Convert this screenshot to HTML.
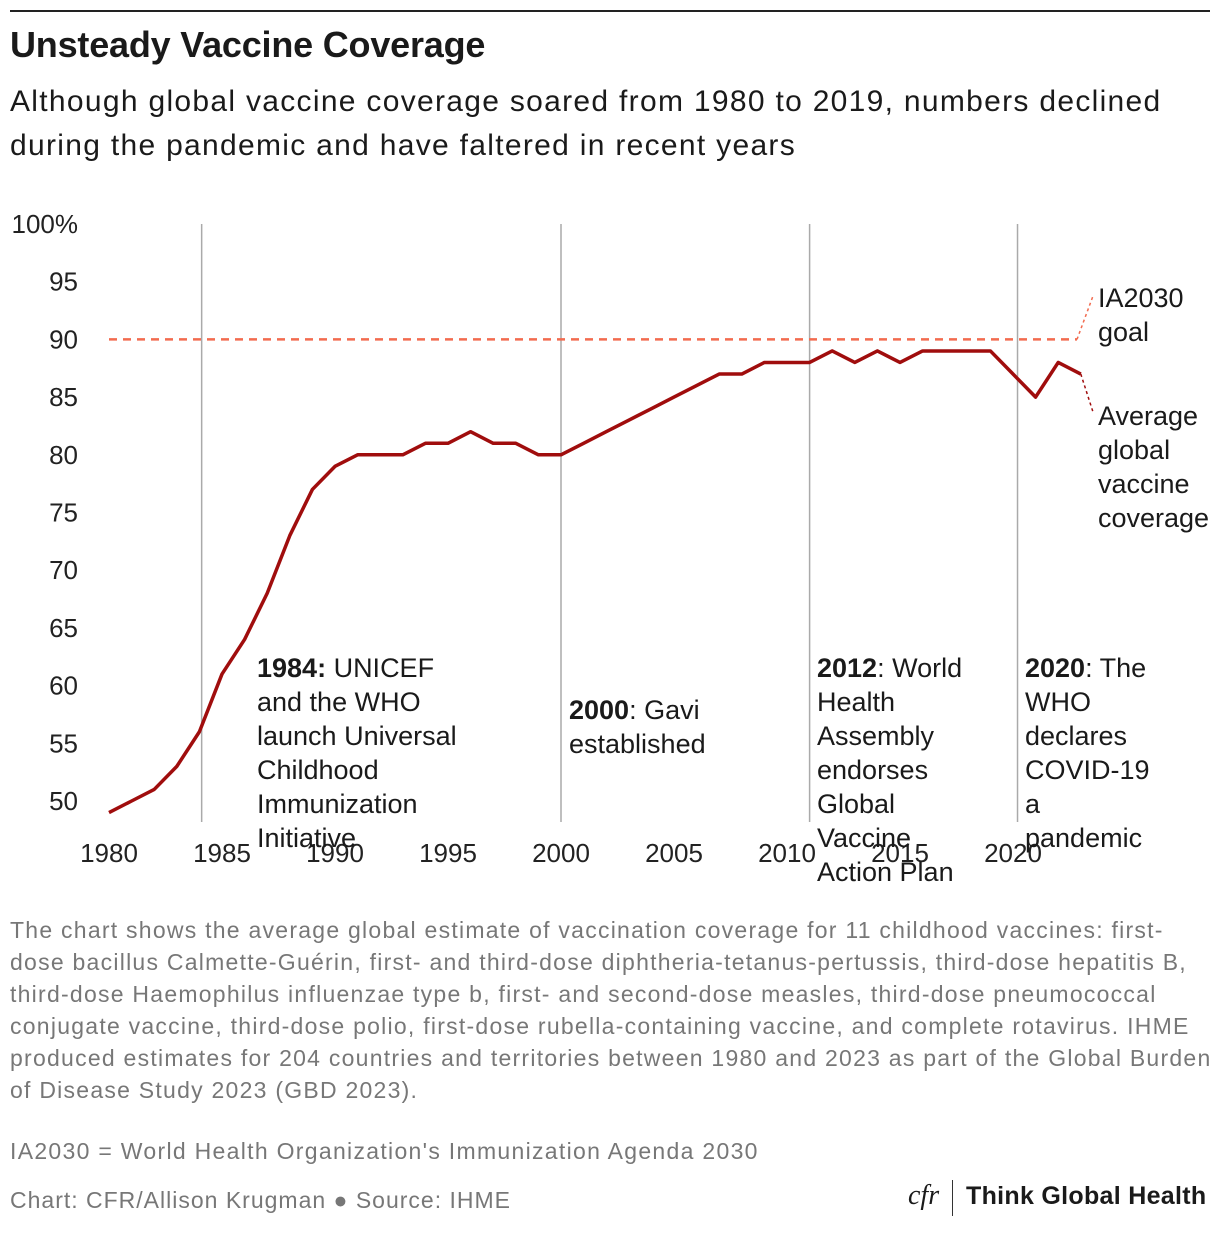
<!DOCTYPE html>
<html><head><meta charset="utf-8"><style>
body{margin:0;width:1220px;height:1236px;background:#fff;font-family:"Liberation Sans",sans-serif;color:#1a1a1a;position:relative;overflow:hidden}
.abs{position:absolute}
</style></head><body>
<div class="abs" style="left:10px;top:10px;width:1200px;height:2px;background:#222"></div>
<div class="abs" style="left:10px;top:24px;font-size:36px;font-weight:bold;letter-spacing:-0.2px">Unsteady Vaccine Coverage</div>
<div class="abs" style="left:10px;top:80px;font-size:30px;line-height:44px;width:1190px;letter-spacing:1.3px">Although global vaccine coverage soared from 1980 to 2019, numbers declined during the pandemic and have faltered in recent years</div>
<svg class="abs" style="left:0;top:0" width="1220" height="900" id="svg"></svg>
<div class="abs" style="left:10px;top:914px;width:1205px;font-size:23px;line-height:32px;color:#777;letter-spacing:1.25px">The chart shows the average global estimate of vaccination coverage for 11 childhood vaccines: first-dose bacillus Calmette-Guérin, first- and third-dose diphtheria-tetanus-pertussis, third-dose hepatitis B, third-dose Haemophilus influenzae type b, first- and second-dose measles, third-dose pneumococcal conjugate vaccine, third-dose polio, first-dose rubella-containing vaccine, and complete rotavirus. IHME produced estimates for 204 countries and territories between 1980 and 2023 as part of the Global Burden of Disease Study 2023 (GBD 2023).</div>
<div class="abs" style="left:10px;top:1138px;font-size:23px;color:#777;letter-spacing:1.3px">IA2030 = World Health Organization's Immunization Agenda 2030</div>
<div class="abs" style="left:10px;top:1187px;font-size:23px;color:#777;letter-spacing:1px">Chart: CFR/Allison Krugman ● Source: IHME</div>
<div class="abs" style="left:908px;top:1180px;font-size:28px;font-family:'Liberation Serif',serif;font-style:italic">cfr</div>
<div class="abs" style="left:952px;top:1180px;width:1px;height:36px;background:#333"></div>
<div class="abs" style="left:966px;top:1182px;font-size:25px;font-weight:bold;letter-spacing:0.3px">Think Global Health</div>
<script>
const years=[1980,1981,1982,1983,1984,1985,1986,1987,1988,1989,1990,1991,1992,1993,1994,1995,1996,1997,1998,1999,2000,2001,2002,2003,2004,2005,2006,2007,2008,2009,2010,2011,2012,2013,2014,2015,2016,2017,2018,2019,2020,2021,2022,2023];
const coverage=[49,50,51,53,56,61,64,68,73,77,79,80,80,80,81,81,82,81,81,80,80,81,82,83,84,85,86,87,87,88,88,88,89,88,89,88,89,89,89,89,87,85,88,87];
const yTicks=[50,55,60,65,70,75,80,85,90,95,100];
const xTicks=[1980,1985,1990,1995,2000,2005,2010,2015,2020];
const goal=90;
const eventYears=[1984.1,2000,2011,2020.2];
const NS="http://www.w3.org/2000/svg";
const svg=document.getElementById('svg');
const x=v=>109+(v-1980)*22.6;
const y=v=>224+(100-v)*11.54;
function mk(t,a){const e=document.createElementNS(NS,t);for(const k in a)e.setAttribute(k,a[k]);svg.appendChild(e);return e;}
yTicks.forEach(t=>{const e=mk('text',{x:78,y:y(t)+9,'font-size':26,fill:'#222','text-anchor':'end'});e.textContent=t===100?'100%':t;

});
xTicks.forEach(t=>{const e=mk('text',{x:x(t),y:862,'font-size':26,fill:'#222','text-anchor':'middle'});e.textContent=t;

});
eventYears.forEach(t=>{const e=mk('line',{x1:x(t),x2:x(t),y1:224,y2:822,stroke:'#aaa','stroke-width':1.5});

});
const g=mk('line',{x1:109,x2:1077,y1:y(goal),y2:y(goal),stroke:'#f26b4f','stroke-width':2.5,'stroke-dasharray':'8,6'});


const gl=mk('line',{x1:1077,y1:y(goal),x2:1093,y2:296,stroke:'#f26b4f','stroke-width':1.5,'stroke-dasharray':'3,3'});


const p=mk('polyline',{points:years.map((v,i)=>x(v)+','+y(coverage[i])).join(' '),fill:'none',stroke:'#a00d0d','stroke-width':3.5,'stroke-linejoin':'round'});


const cl=mk('line',{x1:x(2023),y1:y(coverage[coverage.length-1]),x2:1093,y2:412,stroke:'#a00d0d','stroke-width':1.5,'stroke-dasharray':'3,3'});


function block(lines,x0,y0,name){const e=mk('text',{x:x0,y:y0,'font-size':27,fill:'#1a1a1a'});


lines.forEach((l,i)=>{const ts=document.createElementNS(NS,'tspan');ts.setAttribute('x',x0);ts.setAttribute('dy',i?34:0);
if(Array.isArray(l)){const b=document.createElementNS(NS,'tspan');b.setAttribute('font-weight','bold');b.textContent=l[0];ts.appendChild(b);ts.appendChild(document.createTextNode(l[1]));}else ts.textContent=l;e.appendChild(ts);});}
block([['1984:',' UNICEF'],'and the WHO','launch Universal','Childhood','Immunization','Initiative'],257,677,'annotation-1984');
block([['2000',': Gavi'],'established'],569,719,'annotation-2000');
block([['2012',': World'],'Health','Assembly','endorses','Global','Vaccine','Action Plan'],817,677,'annotation-2012');
block([['2020',': The'],'WHO','declares','COVID-19','a','pandemic'],1025,677,'annotation-2020');
block(['IA2030','goal'],1098,307,'goal-label');
block(['Average','global','vaccine','coverage'],1098,425,'coverage-label');
</script>
</body></html>
